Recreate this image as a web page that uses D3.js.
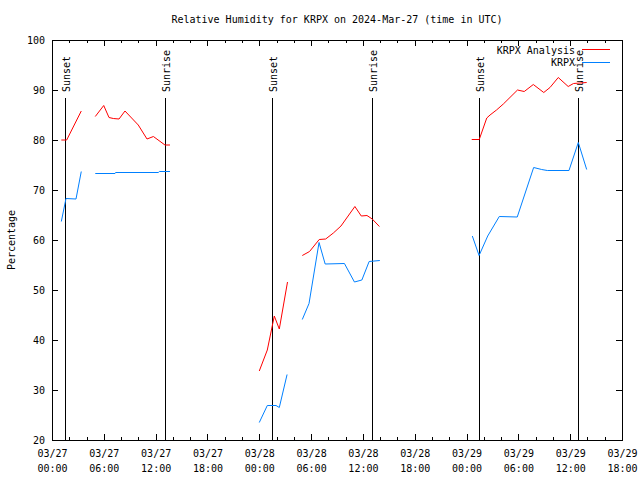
<!DOCTYPE html>
<html>
<head>
<meta charset="utf-8">
<script src="https://cdn.jsdelivr.net/npm/d3@7"></script>
<style>
  body { margin: 0; background: #fff; }
  svg { display: block; }
  text { font-family: "DejaVu Sans Mono", monospace; font-size: 10px; fill: #000; }
</style>
</head>
<body>
<svg id="chart" width="640" height="480"></svg>
<script>
// ---- data (hours after 2024-03-27 00:00 UTC) ----
const titleText = "Relative Humidity for KRPX on 2024-Mar-27 (time in UTC)";
const yLabelText = "Percentage";
const seriesNames = ["KRPX Analysis", "KRPX"];
const seriesColors = ["#ff0000", "#0080ff"];

const analysisHours = [1.08, 1.70, 3.39, null,
  5.01, 5.99, 6.60, 7.10, 7.76, 8.45, 9.99, 11.0, 11.74, 13.08, 13.66, null,
  24.0, 24.93, 25.74, 26.32, 27.27, null,
  28.98, 29.82, 30.94, 31.69, 32.58, 33.46, 35.07, 35.81, 36.47, 37.08, 37.91, null,
  48.6, 49.47, 50.34, 50.72, 51.47, 52.26, 53.90, 54.68, 55.73, 56.94, 57.66, 58.62, 59.77, 60.38, 61.91];
const analysisValues = [80.0, 80.0, 85.8, null,
  84.7, 86.9, 84.5, 84.3, 84.2, 85.8, 83.0, 80.2, 80.7, 79.0, 79.0, null,
  33.8, 38.0, 44.8, 42.2, 51.6, null,
  56.9, 57.7, 60.1, 60.2, 61.4, 62.8, 66.7, 64.8, 64.9, 64.2, 62.7, null,
  80.1, 80.1, 84.4, 85.0, 86.0, 87.2, 90.0, 89.7, 91.1, 89.5, 90.5, 92.5, 90.7, 91.3, 91.5];

const obsHours = [1.08, 1.62, 2.78, 3.39, null,
  5.01, 7.30, 7.36, 12.31, 12.43, 13.66, null,
  24.0, 24.93, 25.94, 26.32, 27.22, null,
  28.98, 29.76, 30.92, 31.63, 33.86, 35.02, 35.88, 36.72, 37.96, null,
  48.67, 49.45, 50.45, 51.79, 53.87, 55.77, 56.70, 57.35, 59.86, 60.94, 61.91];
const obsValues = [63.7, 68.3, 68.2, 73.7, null,
  73.3, 73.3, 73.5, 73.5, 73.7, 73.7, null,
  23.5, 26.9, 26.9, 26.5, 33.1, null,
  44.1, 47.3, 59.5, 55.2, 55.3, 51.6, 52.0, 55.7, 55.9, null,
  60.8, 56.9, 60.8, 64.7, 64.6, 74.5, 74.1, 73.9, 73.9, 79.5, 74.1];

const sunsetHours = [1.54, 25.51, 49.47];
const sunriseHours = [13.12, 37.09, 60.93];

const yTickValues = [20, 30, 40, 50, 60, 70, 80, 90, 100];

// ---- layout ----
const svg = d3.select("#chart");
const start = new Date(Date.UTC(2024, 2, 27, 0, 0));
const end = new Date(Date.UTC(2024, 2, 29, 18, 0));
const hourToDate = h => new Date(start.getTime() + h * 3600e3);

const x = d3.scaleUtc().domain([start, end]).range([52, 622]);
const y = d3.scaleLinear().domain([20, 100]).range([440, 40]);

const fmtDate = d3.utcFormat("%m/%d");
const fmtTime = d3.utcFormat("%H:%M");

// minor ticks (every 2 h), bottom and top
const minorTicks = d3.utcHour.every(2).range(start, new Date(end.getTime() + 1));
svg.append("g").attr("transform", "translate(0,440)")
  .call(d3.axisBottom(x).tickValues(minorTicks).tickSizeInner(-3).tickSizeOuter(0).tickFormat(""))
  .call(g => g.select(".domain").remove());
svg.append("g").attr("transform", "translate(0,40)")
  .call(d3.axisTop(x).tickValues(minorTicks).tickSizeInner(-3).tickSizeOuter(0).tickFormat(""))
  .call(g => g.select(".domain").remove());

// major ticks (every 6 h)
const majorTicks = d3.utcHour.every(6).range(start, new Date(end.getTime() + 1));
const xAxisG = svg.append("g").attr("transform", "translate(0,440)")
  .call(d3.axisBottom(x).tickValues(majorTicks).tickSizeInner(-6).tickSizeOuter(0).tickPadding(8).tickFormat(""))
  .call(g => g.select(".domain").remove());
xAxisG.selectAll(".tick text").each(function(d) {
  const t = d3.select(this).attr("dy", null).attr("y", 0);
  t.append("tspan").attr("x", 0).attr("y", 17).text(fmtDate(d));
  t.append("tspan").attr("x", 0).attr("y", 32).text(fmtTime(d));
});
svg.append("g").attr("transform", "translate(0,40)")
  .call(d3.axisTop(x).tickValues(majorTicks).tickSizeInner(-6).tickSizeOuter(0).tickFormat(""))
  .call(g => g.select(".domain").remove());

// y axes
svg.append("g").attr("transform", "translate(52,0)")
  .call(d3.axisLeft(y).tickValues(yTickValues).tickSizeInner(-6).tickSizeOuter(0).tickPadding(7).tickFormat(d3.format("d")))
  .call(g => g.select(".domain").remove());
svg.append("g").attr("transform", "translate(622,0)")
  .call(d3.axisRight(y).tickValues(yTickValues).tickSizeInner(-6).tickSizeOuter(0).tickFormat(""))
  .call(g => g.select(".domain").remove());

svg.selectAll(".tick line").attr("stroke", "#000").attr("shape-rendering", "crispEdges");
svg.selectAll(".tick text").attr("font-family", "DejaVu Sans Mono").attr("font-size", 10);

// frame
svg.append("rect")
  .attr("x", x.range()[0]).attr("y", y.range()[1])
  .attr("width", x.range()[1] - x.range()[0]).attr("height", y.range()[0] - y.range()[1])
  .attr("fill", "none").attr("stroke", "#000").attr("shape-rendering", "crispEdges");

// sunset / sunrise lines
const sunEvents = sunsetHours.map(h => ({h, label: "Sunset"}))
  .concat(sunriseHours.map(h => ({h, label: "Sunrise"})));
sunEvents.forEach(ev => {
  const xx = x(hourToDate(ev.h));
  svg.append("line").attr("x1", xx).attr("x2", xx).attr("y1", 98).attr("y2", y(20))
    .attr("stroke", "#000").attr("shape-rendering", "crispEdges");
  svg.append("text")
    .attr("transform", `translate(${xx + 1},92) rotate(-90)`)
    .attr("dy", "0.35em")
    .text(ev.label);
});

// series
const line = d3.line()
  .defined(d => d.v !== null)
  .x(d => x(hourToDate(d.h)))
  .y(d => y(d.v));
const analysis = analysisHours.map((h, i) => ({h, v: h === null ? null : analysisValues[i]}));
const obs = obsHours.map((h, i) => ({h, v: h === null ? null : obsValues[i]}));

svg.append("path").datum(analysis).attr("d", line)
  .attr("fill", "none").attr("stroke", seriesColors[0]).attr("stroke-width", 1);
svg.append("path").datum(obs).attr("d", line)
  .attr("fill", "none").attr("stroke", seriesColors[1]).attr("stroke-width", 1);

// legend
seriesNames.forEach((name, i) => {
  const ly = 50 + i * 12.5;
  svg.append("text").attr("x", 575).attr("y", ly).attr("dy", "0.35em")
    .attr("text-anchor", "end").text(name);
  svg.append("line").attr("x1", 582).attr("x2", 610).attr("y1", ly - 0.5).attr("y2", ly - 0.5)
    .attr("stroke", seriesColors[i]).attr("shape-rendering", "crispEdges");
});

// title and y label
svg.append("text").attr("x", 337).attr("y", 23).attr("text-anchor", "middle").text(titleText);
svg.append("text").attr("transform", "translate(15,240) rotate(-90)")
  .attr("text-anchor", "middle").text(yLabelText);
</script>
</body>
</html>
